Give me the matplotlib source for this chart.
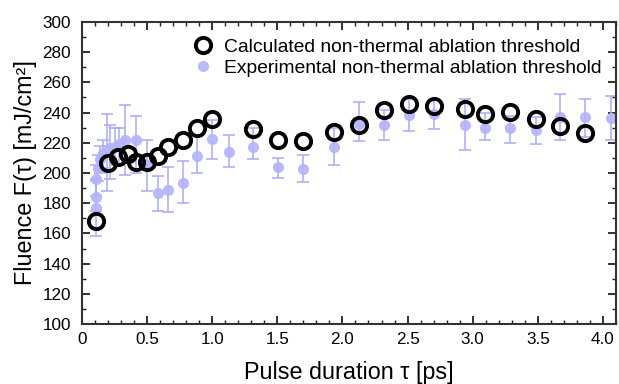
import matplotlib
matplotlib.use("Agg")
import matplotlib.pyplot as plt
from matplotlib.ticker import MultipleLocator

plt.rcParams['font.family'] = ['Liberation Sans', 'DejaVu Sans']

calc_x = [0.107, 0.20, 0.28, 0.356, 0.415, 0.497, 0.586, 0.663, 0.778, 0.88, 0.996,
          1.315, 1.507, 1.70, 1.937, 2.127, 2.32, 2.513, 2.705, 2.94, 3.094, 3.286,
          3.486, 3.67, 3.862]
calc_y = [168.2, 206.4, 210.8, 212.6, 207.5, 207.0, 211.3, 217.0, 221.9, 229.8, 235.8,
          229.3, 221.7, 221.2, 227.0, 231.8, 241.7, 245.7, 244.6, 242.2, 239.1, 240.2,
          235.8, 231.1, 226.7]

exp_x = [0.107, 0.107, 0.11, 0.125, 0.138, 0.164, 0.19, 0.215, 0.253, 0.287, 0.33,
         0.415, 0.50, 0.586, 0.663, 0.778, 0.88, 0.996, 1.13, 1.315, 1.507, 1.70,
         1.937, 2.127, 2.32, 2.513, 2.705, 2.94, 3.094, 3.286, 3.486, 3.67, 3.862, 4.06]
exp_y = [176.6, 184.3, 196.0, 203.0, 209.0, 213.0, 215.0, 216.5, 217.4, 219.0, 222.0,
         222.0, 205.0, 186.5, 188.7, 193.6, 211.5, 222.3, 214.0, 217.4, 203.8, 202.4,
         217.4, 232.5, 231.8, 238.4, 238.9, 231.8, 230.0, 229.6, 228.5, 236.9, 236.9, 236.2]
exp_lo = [158, 175, 185, 195, 200, 203, 188, 196, 205, 205, 199,
          200, 188, 175, 174, 180, 200, 209, 204, 209, 197, 194,
          205, 221, 222, 228, 229, 215, 222, 220, 219, 222, 224, 222]
exp_hi = [196, 195, 205, 212, 218, 222, 239, 232, 230, 230, 245,
          238, 222, 198, 204, 208, 225, 235, 225, 230, 210, 212,
          230, 247, 242, 249, 248, 249, 240, 238, 237, 252, 249, 251]

yerr = [[y - lo for y, lo in zip(exp_y, exp_lo)], [hi - y for y, hi in zip(exp_y, exp_hi)]]

fig = plt.figure(figsize=(6.19, 3.84), dpi=100)
ax = fig.add_axes([0.1325, 0.156, 0.8625, 0.787])

ax.errorbar(exp_x, exp_y, yerr=yerr, fmt='none', ecolor='#a8a8f8',
            elinewidth=1.2, capsize=4, capthick=1.2, alpha=0.9, zorder=2)
ax.plot(calc_x, calc_y, 'o', markerfacecolor='none', markeredgecolor='black',
        markersize=11, markeredgewidth=2.8, linestyle='none', zorder=3,
        label='Calculated non-thermal ablation threshold')
ax.plot(exp_x, exp_y, 'o', color='#b4b4fb', markersize=7, linestyle='none',
        alpha=0.9, zorder=2.5, label='Experimental non-thermal ablation threshold')

ax.set_xlim(0, 4.1)
ax.set_ylim(100, 300)
ax.xaxis.set_minor_locator(MultipleLocator(0.1))
ax.yaxis.set_major_locator(MultipleLocator(20))
ax.yaxis.set_minor_locator(MultipleLocator(10))
ax.set_xticks([0, 0.5, 1.0, 1.5, 2.0, 2.5, 3.0, 3.5, 4.0])
ax.set_xticklabels(['0', '0.5', '1.0', '1.5', '2.0', '2.5', '3.0', '3.5', '4.0'])
ax.tick_params(which='both', direction='in', top=True, right=True, labelsize=12.3,
               color='#222222')
ax.tick_params(which='major', length=6, width=1.3)
ax.tick_params(axis='x', which='major', pad=6)
ax.tick_params(axis='y', which='major', pad=8)
ax.tick_params(which='minor', length=3, width=1.0)
for s in ax.spines.values():
    s.set_linewidth(1.5)
    s.set_color('#333333')

ax.set_xlabel('Pulse duration τ [ps]', fontsize=16.8, labelpad=10)
ax.set_ylabel('Fluence F(τ) [mJ/cm²]', fontsize=16.8, labelpad=4)

ax.legend(loc='upper left', bbox_to_anchor=(0.176, 0.985), frameon=False,
          fontsize=13.9, handletextpad=0.3, borderaxespad=0.2, labelspacing=0.2,
          handlelength=1.6)

fig.savefig('out.png', dpi=100)
